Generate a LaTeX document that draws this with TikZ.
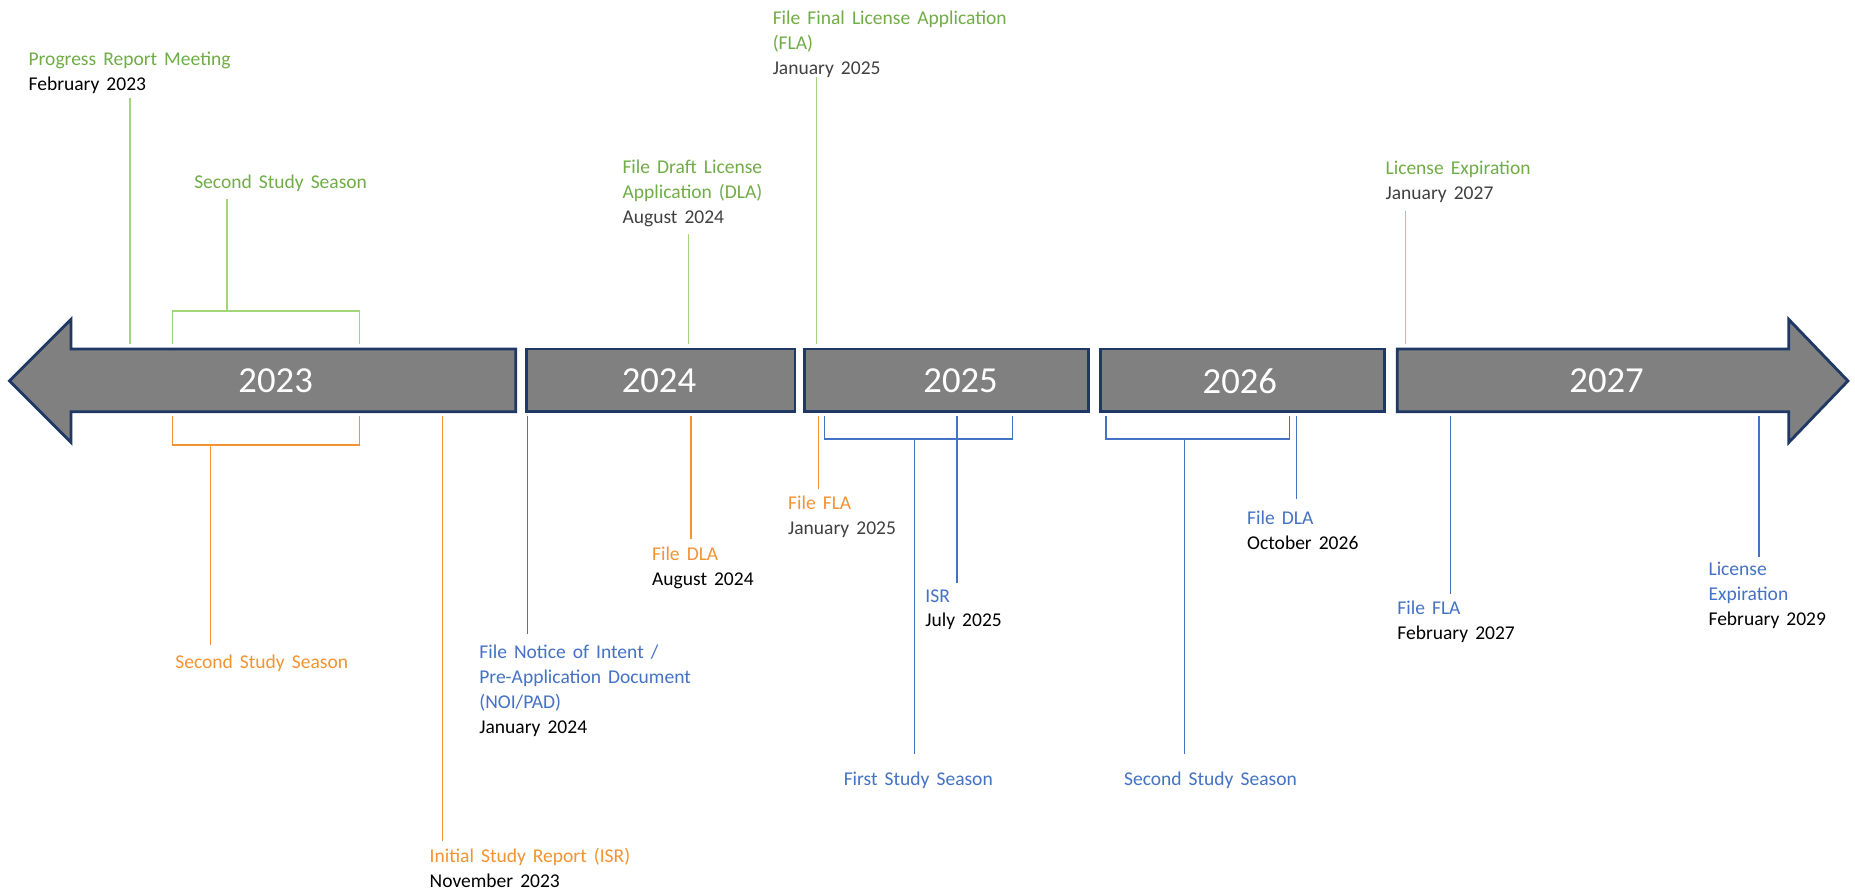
\documentclass[tikz,border=0pt]{standalone}
\usepackage{fontspec}
\setmainfont{Carlito}[WordSpace=1.6]
\usetikzlibrary{positioning}
\definecolor{yrgray}{HTML}{808080}
\definecolor{yrnavy}{HTML}{1F3864}
\definecolor{mgreen}{HTML}{70AD47}
\definecolor{lgreen}{HTML}{A3D57A}
\definecolor{morange}{HTML}{F39332}
\definecolor{mblue}{HTML}{4472C4}
\definecolor{dgray}{HTML}{404040}
\tikzset{
  yearbox/.style={fill=yrgray, draw=yrnavy, line width=2.4pt, line join=miter},
  yearlabel/.style={text=white, inner sep=0pt, font=\fontsize{31}{36}\selectfont},
  lbl/.style={anchor=north west, inner sep=0pt, align=left, font=\fontsize{16.5}{21}\selectfont},
  gline/.style={lgreen, line width=1.2pt},
  oline/.style={morange, line width=1.2pt},
  bline/.style={mblue, line width=1.2pt}
}

\begin{document}
\begin{tikzpicture}[x=1pt,y=-1pt]
  \useasboundingbox[fill=white] (0,0) rectangle (1568,756);
  % timeline
  \draw[yearbox] (8,322) -- (60,270) -- (60,295) -- (436,295) -- (436,348) -- (60,348) -- (60,374) -- cycle;
  \draw[yearbox] (445,295) rectangle (672,348);
  \draw[yearbox] (680,295) rectangle (920,348);
  \draw[yearbox] (930,295) rectangle (1170,348);
  \draw[yearbox] (1181,295) -- (1512,295) -- (1512,270) -- (1562,322) -- (1512,374) -- (1512,348) -- (1181,348) -- cycle;
  \node[yearlabel] (y2023) at (233,322) {2023};
  \node[yearlabel] (y2024) at (557,322) {2024};
  \node[yearlabel] (y2025) at (812,322) {2025};
  \node[yearlabel] (y2026) at (1048,322) {2026};
  \node[yearlabel] (y2027) at (1358,322) {2027};
  \coordinate (tltop) at (0,291);
  \coordinate (tlbot) at (0,352);

  % above the timeline
  \node[lbl] (prm) at (24,44) {\textcolor{mgreen}{Progress Report Meeting}\\February 2023};
  \coordinate (prmx) at (110,83);
  \draw[gline] (prmx) -- (prmx |- tltop);

  \node[lbl] (sstop) at (164,148) {\textcolor{mgreen}{Second Study Season}};
  \coordinate (sstopx) at (192,168);
  \draw[gline] (146,291) -- (146,263) -- (304,263) -- (304,291);
  \draw[gline] (sstopx) -- (192,263);

  \node[lbl] (dlatop) at (526,135) {\textcolor{mgreen}{File Draft License}\\\textcolor{mgreen}{Application (DLA)}\\\textcolor{dgray}{August 2024}};
  \coordinate (dlatopx) at (582,198);
  \draw[gline] (dlatopx) -- (dlatopx |- tltop);

  \node[lbl] (flatop) at (653,9) {\textcolor{mgreen}{File Final License Application}\\\textcolor{mgreen}{(FLA)}\\\textcolor{dgray}{January 2025}};
  \coordinate (flatopx) at (690,65);
  \draw[gline] (flatopx) -- (flatopx |- tltop);

  \node[lbl] (lexptop) at (1171,136) {\textcolor{mgreen}{License Expiration}\\\textcolor{dgray}{January 2027}};
  \coordinate (lexptopx) at (1188,178);
  \draw[gline] (lexptopx) -- (lexptopx |- tltop);

  % below the timeline, orange
  \draw[oline] (146,352) -- (146,376) -- (304,376) -- (304,352);
  \node[lbl] (ssor) at (148,553) {\textcolor{morange}{Second Study Season}};
  \coordinate (ssorx) at (178,545);
  \draw[oline] (178,376) -- (ssorx);

  \node[lbl] (isror) at (363,717) {\textcolor{morange}{Initial Study Report (ISR)}\\November 2023};
  \coordinate (isrorx) at (374,711);
  \draw[oline] (isrorx |- tlbot) -- (isrorx);

  \node[lbl] (dlaor) at (551,462) {\textcolor{morange}{File DLA}\\August 2024};
  \coordinate (dlaorx) at (584,456);
  \draw[oline] (dlaorx |- tlbot) -- (dlaorx);

  \node[lbl] (flaor) at (666,419) {\textcolor{morange}{File FLA}\\\textcolor{dgray}{January 2025}};
  \coordinate (flaorx) at (692,413);
  \draw[oline] (flaorx |- tlbot) -- (flaorx);

  % below the timeline, blue
  \node[lbl] (noi) at (405,545) {\textcolor{mblue}{File Notice of Intent /}\\\textcolor{mblue}{Pre-Application Document}\\\textcolor{mblue}{(NOI/PAD)}\\January 2024};
  \coordinate (noix) at (446,536);
  \draw[bline] (noix |- tlbot) -- (noix);

  \draw[bline] (697,352) -- (697,371) -- (856,371) -- (856,352);
  \node[lbl] (fss) at (713,652) {\textcolor{mblue}{First Study Season}};
  \coordinate (fssx) at (773,637);
  \draw[bline] (773,371) -- (fssx);

  \node[lbl] (isrbl) at (782,498) {\textcolor{mblue}{ISR}\\July 2025};
  \coordinate (isrblx) at (809,493);
  \draw[bline] (isrblx |- tlbot) -- (isrblx);

  \draw[bline] (935,352) -- (935,371) -- (1090,371) -- (1090,352);
  \node[lbl] (ssbl) at (950,652) {\textcolor{mblue}{Second Study Season}};
  \coordinate (ssblx) at (1001,637);
  \draw[bline] (1001,371) -- (ssblx);

  \node[lbl] (dlabl) at (1054,432) {\textcolor{mblue}{File DLA}\\October 2026};
  \coordinate (dlablx) at (1096,422);
  \draw[bline] (dlablx |- tlbot) -- (dlablx);

  \node[lbl] (flabl) at (1181,508) {\textcolor{mblue}{File FLA}\\February 2027};
  \coordinate (flablx) at (1226,502);
  \draw[bline] (flablx |- tlbot) -- (flablx);

  \node[lbl] (lexpbl) at (1444,475) {\textcolor{mblue}{License}\\\textcolor{mblue}{Expiration}\\February 2029};
  \coordinate (lexpblx) at (1487,471);
  \draw[bline] (lexpblx |- tlbot) -- (lexpblx);
\end{tikzpicture}
\end{document}
